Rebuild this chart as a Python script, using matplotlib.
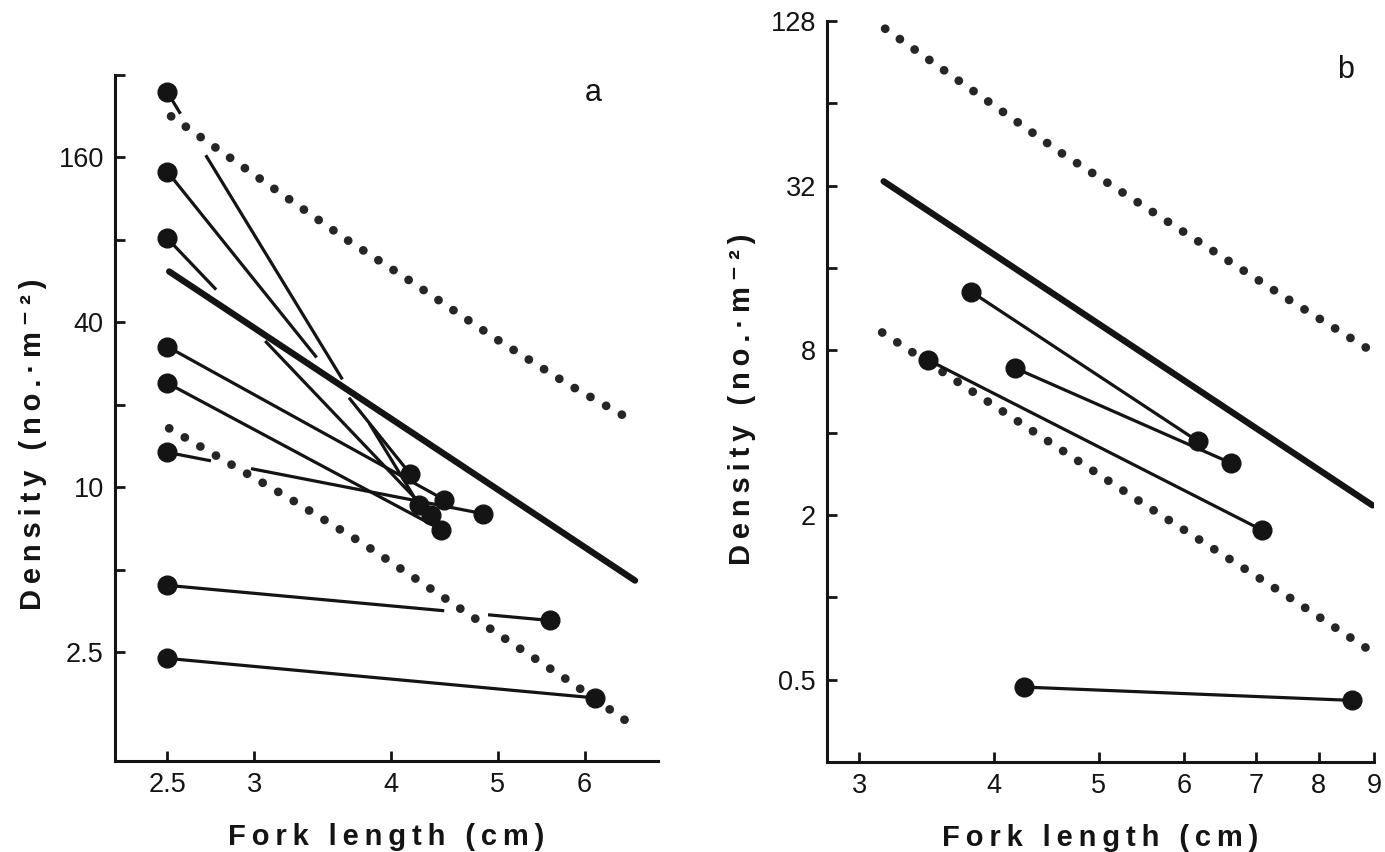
import matplotlib
matplotlib.use("Agg")
import matplotlib.pyplot as plt
from matplotlib.ticker import FixedLocator, FixedFormatter, NullLocator
import numpy as np

plt.rcParams.update({"font.family": ["Liberation Sans", "DejaVu Sans"],
                     "axes.spines.top": False, "axes.spines.right": False})
INK = "#141414"
DOT = "#262626"

# ---- panel a: cohort trajectories (start at 2.5 cm -> later size) ----
A_START_X = [2.5, 2.5, 2.5, 2.5, 2.5, 2.5, 2.5, 2.5]
A_START_Y = [277, 142, 81, 32.6, 24.0, 13.4, 4.38, 2.37]
A_END_X = [4.24, 4.16, 4.35, 4.47, 4.44, 4.85, 5.58, 6.13]
A_END_Y = [8.6, 11.2, 7.9, 9.0, 7.0, 8.0, 3.26, 1.70]
# breaks in the drawn lines where they pass other lines (fork length, cm)
A_GAPS = [[(2.57, 2.71), (3.61, 3.82)], [(3.42, 3.66)], [(2.77, 3.07)], [], [],
          [(2.74, 2.98)], [(4.47, 4.90)], []]
A_FIT_X = [2.51, 6.67]
A_FIT_Y = [61.3, 4.56]
A_UP_X = [2.52, 3.64, 4.13, 4.95, 5.79, 6.60]
A_UP_Y = [226, 80.3, 57.8, 35.4, 23.8, 17.7]
A_LO_X = [2.51, 3.23, 3.78, 4.41, 5.16, 5.84, 6.60]
A_LO_Y = [16.4, 9.1, 6.18, 4.09, 2.68, 1.93, 1.37]
A_XTICKS = [2.5, 3, 4, 5, 6]
A_XLABELS = ["2.5", "3", "4", "5", "6"]
A_YTICKS = [2.5, 5, 10, 20, 40, 80, 160, 320]
A_YLABELS = ["2.5", "", "10", "", "40", "", "160", ""]

# ---- panel b ----
B_START_X = [3.81, 4.18, 3.47, 4.26]
B_START_Y = [13.1, 6.9, 7.4, 0.47]
B_END_X = [6.18, 6.63, 7.09, 8.59]
B_END_Y = [3.72, 3.10, 1.76, 0.42]
B_FIT_X = [3.16, 8.97]
B_FIT_Y = [33.2, 2.17]
B_UP_X = [3.17, 4.61, 5.77, 7.42, 8.99]
B_UP_Y = [120, 42.3, 23.9, 12.6, 7.87]
B_LO_X = [3.15, 4.01, 5.49, 7.54, 8.92]
B_LO_Y = [9.3, 4.99, 2.21, 0.99, 0.64]
B_XTICKS = [3, 4, 5, 6, 7, 8, 9]
B_XLABELS = ["3", "4", "5", "6", "7", "8", "9"]
B_YTICKS = [0.5, 1, 2, 4, 8, 16, 32, 64, 128]
B_YLABELS = ["0.5", "", "2", "", "8", "", "32", "", "128"]


def spaced(s):
    return "\u2009".join(s)


def pieces(x0, y0, x1, y1, gaps):
    """split a straight (log-log) segment at the gap positions"""
    lx0, ly0, lx1, ly1 = np.log10([x0, y0, x1, y1])
    cuts = [x0] + [v for g in gaps for v in g] + [x1]
    out = []
    for a, b in zip(cuts[0::2], cuts[1::2]):
        la, lb = np.log10([a, b])
        ya = ly0 + (la - lx0) / (lx1 - lx0) * (ly1 - ly0)
        yb = ly0 + (lb - lx0) / (lx1 - lx0) * (ly1 - ly0)
        out.append(([a, b], [10 ** ya, 10 ** yb]))
    return out


def style(ax, xlim, ylim, xt, xl, yt, yl):
    ax.set_xscale("log"); ax.set_yscale("log")
    ax.set_xlim(*xlim); ax.set_ylim(*ylim)
    ax.xaxis.set_major_locator(FixedLocator(xt))
    ax.xaxis.set_major_formatter(FixedFormatter(xl))
    ax.yaxis.set_major_locator(FixedLocator(yt))
    ax.yaxis.set_major_formatter(FixedFormatter(yl))
    ax.xaxis.set_minor_locator(NullLocator())
    ax.yaxis.set_minor_locator(NullLocator())
    for s in ("left", "bottom"):
        ax.spines[s].set_linewidth(2.2); ax.spines[s].set_color(INK)
    ax.tick_params(direction="in", length=7.5, width=2, labelsize=19.5,
                   pad=8, color=INK, labelcolor=INK)
    ax.set_xlabel(spaced("Fork length (cm)"), fontsize=21, fontweight="bold",
                  color=INK)
    ax.set_ylabel(spaced("Density (no.·m⁻²)"), fontsize=21, fontweight="bold",
                  color=INK)


def draw(ax, sx, sy, ex, ey, gaps, fx, fy, ux, uy, lx, ly):
    dotted = dict(color=DOT, lw=6.3, linestyle=(0, (0.01, 2.05)),
                  dash_capstyle="round", zorder=1)
    ax.plot(ux, uy, **dotted)
    ax.plot(lx, ly, **dotted)
    ax.plot(fx, fy, color=INK, lw=4.6, solid_capstyle="round", zorder=2)
    for i in range(len(sx)):
        for px, py in pieces(sx[i], sy[i], ex[i], ey[i], gaps[i]):
            ax.plot(px, py, color=INK, lw=2.3, solid_capstyle="butt", zorder=3)
        ax.plot([sx[i], ex[i]], [sy[i], ey[i]], "o", ls="none", ms=13.5,
                color=INK, zorder=4)


fig = plt.figure(figsize=(13.85, 8.52), dpi=100)
axa = fig.add_axes([0.0830, 0.1068, 0.3921, 0.8052])
axb = fig.add_axes([0.5971, 0.1056, 0.3950, 0.8697])

draw(axa, A_START_X, A_START_Y, A_END_X, A_END_Y, A_GAPS,
     A_FIT_X, A_FIT_Y, A_UP_X, A_UP_Y, A_LO_X, A_LO_Y)
style(axa, (2.24, 7.0), (1.0, 320), A_XTICKS, A_XLABELS, A_YTICKS, A_YLABELS)
axa.text(0.88, 0.974, "a", transform=axa.transAxes, fontsize=22,
         ha="center", va="center", color=INK)
axa.yaxis.set_label_coords(-0.125, 0.462)
axa.xaxis.set_label_coords(0.5, -0.09)

draw(axb, B_START_X, B_START_Y, B_END_X, B_END_Y, [[]] * len(B_START_X),
     B_FIT_X, B_FIT_Y, B_UP_X, B_UP_Y, B_LO_X, B_LO_Y)
style(axb, (2.80, 9.0), (0.25, 128), B_XTICKS, B_XLABELS, B_YTICKS, B_YLABELS)
axb.text(0.947, 0.934, "b", transform=axb.transAxes, fontsize=22,
         ha="center", va="center", color=INK)
axb.yaxis.set_label_coords(-0.13, 0.489)
axb.xaxis.set_label_coords(0.5, -0.083)

fig.savefig("out.png", dpi=100, facecolor="white")
